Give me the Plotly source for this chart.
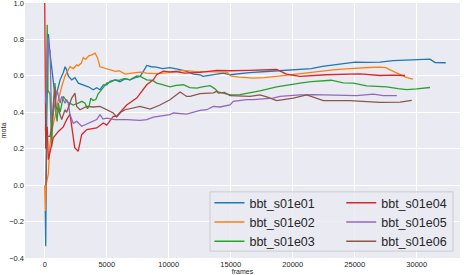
import plotly.graph_objects as go

series_names = ["bbt_s01e01", "bbt_s01e02", "bbt_s01e03", "bbt_s01e04", "bbt_s01e05", "bbt_s01e06"]
colors = ["#1f77b4", "#ff7f0e", "#2ca02c", "#d62728", "#9467bd", "#8c564b"]

e01_x = [40, 80, 160, 240, 300, 400, 560, 690, 830, 970, 1240, 1510, 1640, 1770, 1900, 2180, 2440, 2710, 3110, 3520, 3920, 4190, 4460, 4730, 5000, 5270, 5670, 6070, 6500, 6880, 7300, 7700, 8000, 8230, 8600, 9000, 9500, 10100, 10800, 11450, 12000, 12520, 12770, 13400, 14400, 14950, 15700, 16500, 17900, 19000, 20590, 21500, 22400, 23250, 24200, 25030, 26000, 27040, 28090, 29500, 30500, 31070, 31480, 32000, 32340]
e01_y = [-0.14, -0.335, 0.35, 0.81, 0.83, 0.74, 0.65, 0.58, 0.49, 0.505, 0.578, 0.62, 0.65, 0.633, 0.6, 0.578, 0.59, 0.56, 0.551, 0.54, 0.524, 0.535, 0.524, 0.55, 0.55, 0.57, 0.578, 0.568, 0.585, 0.578, 0.59, 0.597, 0.63, 0.657, 0.65, 0.648, 0.64, 0.645, 0.635, 0.624, 0.61, 0.606, 0.597, 0.605, 0.615, 0.606, 0.612, 0.618, 0.624, 0.628, 0.633, 0.64, 0.652, 0.66, 0.668, 0.675, 0.674, 0.675, 0.684, 0.686, 0.688, 0.692, 0.673, 0.673, 0.672]

e02_x = [0, 40, 100, 290, 430, 560, 830, 1100, 1370, 1640, 1780, 2040, 2300, 2580, 2700, 2950, 3110, 3300, 3550, 3800, 4060, 4250, 4460, 4700, 5000, 5270, 5700, 6000, 6480, 7000, 7720, 8230, 9000, 10000, 11150, 12000, 13070, 14140, 14700, 15000, 15700, 16800, 17700, 18710, 19700, 20590, 22000, 23250, 24300, 25160, 26200, 27040, 27500, 27850, 28250, 28660, 29200, 29700]
e02_y = [0.0, -0.14, 0.0, 0.06, 0.23, 0.30, 0.376, 0.47, 0.54, 0.60, 0.617, 0.65, 0.64, 0.66, 0.655, 0.67, 0.70, 0.69, 0.71, 0.715, 0.725, 0.70, 0.65, 0.645, 0.64, 0.633, 0.625, 0.628, 0.61, 0.615, 0.62, 0.615, 0.612, 0.618, 0.63, 0.625, 0.624, 0.62, 0.62, 0.60, 0.593, 0.588, 0.59, 0.597, 0.605, 0.615, 0.625, 0.633, 0.638, 0.643, 0.646, 0.648, 0.645, 0.633, 0.62, 0.606, 0.59, 0.582]

e03_x = [60, 150, 200, 260, 430, 560, 700, 830, 900, 1000, 1100, 1240, 1500, 1770, 2000, 2300, 2700, 3000, 3250, 3450, 3600, 3720, 3900, 4120, 4300, 4460, 4700, 5000, 5300, 5670, 6000, 6400, 6880, 7200, 7420, 7700, 8000, 8230, 8700, 9030, 9500, 10100, 10600, 11180, 11700, 12270, 12700, 13340, 13700, 13980, 14400, 14950, 15750, 16500, 17360, 18700, 19600, 20590, 21500, 22470, 23100, 24080, 24890, 25970, 27580, 28500, 29200, 30000, 31070]
e03_y = [0.30, 0.55, 0.88, 0.52, 0.50, 0.21, 0.45, 0.56, 0.40, 0.35, 0.45, 0.40, 0.487, 0.46, 0.45, 0.44, 0.45, 0.46, 0.45, 0.42, 0.44, 0.478, 0.465, 0.47, 0.50, 0.515, 0.535, 0.56, 0.565, 0.578, 0.575, 0.585, 0.578, 0.59, 0.60, 0.597, 0.585, 0.578, 0.575, 0.56, 0.552, 0.54, 0.548, 0.551, 0.535, 0.533, 0.54, 0.546, 0.53, 0.512, 0.505, 0.496, 0.497, 0.506, 0.518, 0.54, 0.551, 0.56, 0.568, 0.575, 0.576, 0.562, 0.56, 0.545, 0.54, 0.53, 0.524, 0.528, 0.536]

e04_x = [0, 80, 200, 290, 690, 1100, 1500, 1770, 2040, 2200, 2420, 2700, 2980, 3390, 4190, 4730, 5000, 5530, 5800, 6610, 7420, 8226, 8760, 9030, 9565, 10100, 10570, 11300, 12530, 13870, 15000, 16500, 17900, 18700, 19500, 20590, 22700, 25420, 27040, 28000, 29060]
e04_y = [1.0, 0.2, 0.32, 0.14, 0.26, 0.295, 0.32, 0.36, 0.39, 0.3, 0.206, 0.186, 0.277, 0.305, 0.314, 0.341, 0.33, 0.378, 0.378, 0.44, 0.478, 0.551, 0.578, 0.606, 0.626, 0.622, 0.624, 0.615, 0.619, 0.63, 0.628, 0.63, 0.633, 0.635, 0.61, 0.597, 0.606, 0.611, 0.602, 0.604, 0.602]

e05_x = [60, 130, 200, 270, 350, 430, 560, 700, 830, 1000, 1240, 1370, 1640, 1770, 1900, 2040, 2300, 2580, 2980, 3520, 3920, 4190, 4460, 4700, 5000, 5670, 6610, 7690, 8226, 8760, 10100, 10370, 11450, 12520, 13065, 13600, 14140, 14940, 15210, 16290, 16800, 18410, 18980, 20590, 21660, 23250, 25160, 26500, 27300, 28400]
e05_y = [0.45, 0.60, 0.78, 0.81, 0.74, 0.74, 0.34, 0.40, 0.45, 0.52, 0.45, 0.487, 0.45, 0.47, 0.45, 0.387, 0.34, 0.35, 0.323, 0.341, 0.35, 0.36, 0.387, 0.363, 0.368, 0.36, 0.36, 0.356, 0.36, 0.374, 0.387, 0.396, 0.39, 0.41, 0.414, 0.432, 0.429, 0.44, 0.46, 0.469, 0.469, 0.478, 0.487, 0.496, 0.497, 0.496, 0.491, 0.5, 0.491, 0.492]

e06_x = [100, 160, 430, 560, 830, 900, 1100, 1370, 1640, 1770, 2180, 2440, 2580, 2850, 3390, 3920, 4460, 4730, 5270, 5530, 5800, 6130, 6480, 6880, 7690, 8500, 9300, 10100, 10500, 10920, 11450, 11720, 12520, 13600, 13870, 14000, 14500, 14950, 16560, 17360, 17900, 18410, 18710, 19250, 20050, 21130, 21940, 22470, 24620, 27040, 28660, 29600]
e06_y = [0.0, 0.268, 0.268, 0.323, 0.54, 0.43, 0.414, 0.36, 0.414, 0.40, 0.478, 0.505, 0.432, 0.414, 0.432, 0.429, 0.432, 0.423, 0.405, 0.396, 0.374, 0.40, 0.414, 0.42, 0.432, 0.418, 0.44, 0.469, 0.49, 0.511, 0.487, 0.487, 0.502, 0.507, 0.515, 0.505, 0.509, 0.491, 0.487, 0.496, 0.485, 0.469, 0.464, 0.47, 0.478, 0.495, 0.478, 0.464, 0.464, 0.454, 0.456, 0.465]

x_ticks = [0, 5000, 10000, 15000, 20000, 25000, 30000]
y_ticks = [-0.4, -0.2, 0.0, 0.2, 0.4, 0.6, 0.8, 1.0]
x_title = "frames"
y_title = "mota"

xs = [e01_x, e02_x, e03_x, e04_x, e05_x, e06_x]
ys = [e01_y, e02_y, e03_y, e04_y, e05_y, e06_y]
legend_ids = ["legend", "legend", "legend", "legend2", "legend2", "legend2"]

fig = go.Figure()
for name, c, x, y, lg in zip(series_names, colors, xs, ys, legend_ids):
    fig.add_trace(go.Scatter(x=x, y=y, mode="lines", name=name, legend=lg,
                             line=dict(color=c, width=1.3)))

font_family = "Liberation Sans, Arial, sans-serif"
leg_common = dict(
    orientation="v", xanchor="left", yanchor="top", y=0.274,
    font=dict(size=12.5, color="#262626"),
    bgcolor="rgba(0,0,0,0)", borderwidth=0,
)
fig.update_layout(
    width=466, height=275,
    margin=dict(l=25, r=6, t=3, b=17),
    paper_bgcolor="white",
    plot_bgcolor="#EAEAF2",
    font=dict(family=font_family, color="#262626", size=8),
    legend=dict(x=0.424, **leg_common),
    legend2=dict(x=0.727, **leg_common),
    showlegend=True,
    shapes=[dict(type="rect", xref="paper", yref="paper",
                 x0=0.4253, x1=0.9839, y0=0.027, y1=0.2594,
                 fillcolor="rgba(234,234,242,0.8)",
                 line=dict(color="#CCCCCC", width=1), layer="above")],
)
fig.update_xaxes(
    range=[-1590, 33490], tickvals=x_ticks, ticktext=[str(v) for v in x_ticks],
    showgrid=True, gridcolor="white", gridwidth=1, zeroline=False,
    showline=False, ticks="", tickfont=dict(size=7.5), automargin=False,
    ticklabeloverflow="allow",
    title=dict(text=x_title, font=dict(size=7), standoff=4),
)
fig.update_yaxes(
    range=[-0.4, 1.0], tickvals=y_ticks,
    ticktext=[("\u2212%.1f" % -v) if v < 0 else ("%.1f" % v) for v in y_ticks],
    showgrid=True, gridcolor="white", gridwidth=1, zeroline=False,
    showline=False, ticks="", tickfont=dict(size=7.5), automargin=False,
    ticklabeloverflow="allow",
    title=dict(text=y_title, font=dict(size=7), standoff=4),
)
fig.write_html("out.html", config={"displayModeBar": False},
               post_script="document.body.style.margin='0';")
